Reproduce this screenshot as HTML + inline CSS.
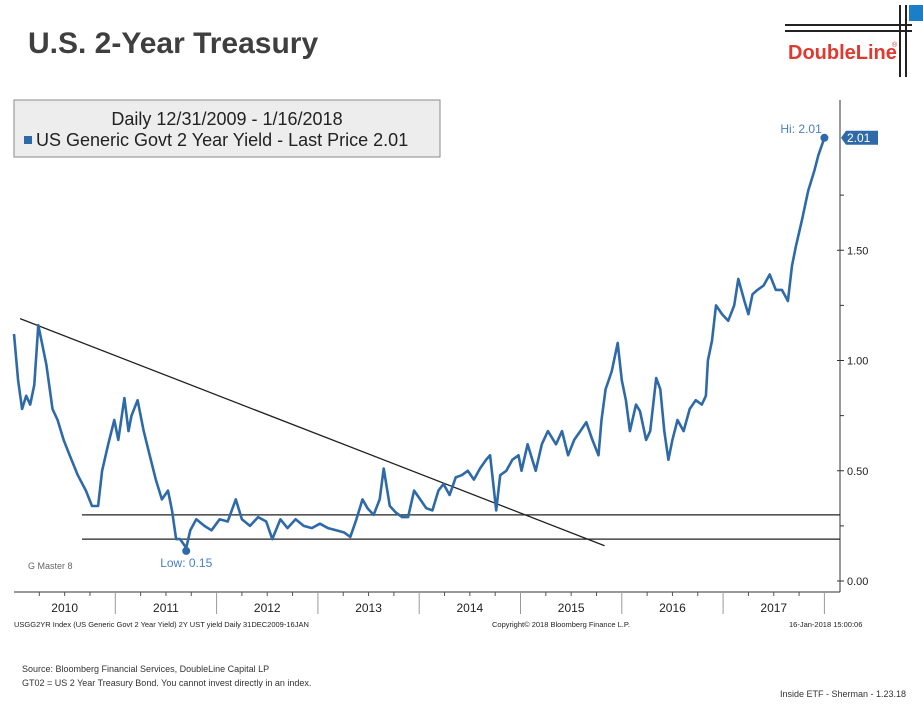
<!DOCTYPE html>
<html><head><meta charset="utf-8"><style>
body{margin:0;background:#fff;width:923px;height:704px;overflow:hidden;font-family:"Liberation Sans",sans-serif}
svg{display:block}
</style></head><body>
<svg width="923" height="704">
<text x="28" y="53" font-size="30" font-weight="bold" fill="#3f3f3f">U.S. 2-Year Treasury</text>
<g>
<line x1="785" y1="25" x2="912" y2="25" stroke="#222" stroke-width="2"/>
<line x1="785" y1="31" x2="912" y2="31" stroke="#222" stroke-width="2"/>
<line x1="900" y1="5" x2="900" y2="77" stroke="#222" stroke-width="2"/>
<line x1="906" y1="5" x2="906" y2="77" stroke="#222" stroke-width="2"/>
<rect x="909" y="5" width="14" height="16" fill="#1a7fc8"/>
<text x="788" y="59" font-size="20" font-weight="bold" fill="#e0392e">DoubleLine</text>
<text x="892" y="47" font-size="7" fill="#e0392e">®</text>
</g>
<g id="plot"></g>
<g>
<rect x="14" y="100" width="426" height="57" fill="#ededed" stroke="#8a8a8a"/>
<text x="227" y="125" font-size="18" text-anchor="middle" fill="#222">Daily 12/31/2009 - 1/16/2018</text>
<rect x="24" y="136" width="8" height="8" fill="#2e6aa8"/>
<text x="36" y="146" font-size="18" fill="#222">US Generic Govt 2 Year Yield - Last Price 2.01</text>
</g>
<text x="28" y="569" font-size="9" fill="#666">G Master 8</text>
<text x="14" y="627" font-size="7.5" fill="#222">USGG2YR Index (US Generic Govt 2 Year Yield) 2Y UST yield  Daily 31DEC2009-16JAN</text>
<text x="492" y="627" font-size="7.5" fill="#222">Copyright© 2018 Bloomberg Finance L.P.</text>
<text x="789" y="627" font-size="7.5" fill="#222">16-Jan-2018 15:00:06</text>
<text x="22" y="672" font-size="9" fill="#333">Source: Bloomberg Financial Services, DoubleLine Capital LP</text>
<text x="22" y="686" font-size="9" fill="#333">GT02 = US 2 Year Treasury Bond.  You cannot invest directly in an index.</text>
<text x="780" y="697" font-size="9" fill="#333">Inside ETF - Sherman - 1.23.18</text>
</svg>
<script>
const years=[2010,2011,2012,2013,2014,2015,2016,2017];
const yTicks=[0,0.5,1.0,1.5];
const yTickLabels=["0.00","0.50","1.00","1.50"];
const times=[0.00,0.04,0.08,0.12,0.16,0.20,0.24,0.28,0.32,0.38,0.43,0.49,0.55,0.63,0.71,0.77,0.83,0.87,0.93,0.99,1.03,1.09,1.13,1.16,1.22,1.28,1.34,1.40,1.46,1.52,1.56,1.60,1.64,1.70,1.74,1.80,1.88,1.95,2.03,2.11,2.19,2.25,2.33,2.41,2.49,2.55,2.63,2.70,2.78,2.86,2.94,3.02,3.10,3.18,3.26,3.32,3.38,3.44,3.49,3.55,3.61,3.65,3.71,3.77,3.83,3.89,3.95,4.01,4.07,4.13,4.19,4.24,4.30,4.36,4.42,4.48,4.54,4.60,4.66,4.70,4.76,4.80,4.86,4.92,4.98,5.01,5.07,5.15,5.21,5.27,5.35,5.41,5.47,5.53,5.59,5.65,5.71,5.77,5.80,5.84,5.90,5.96,6.00,6.04,6.08,6.14,6.18,6.24,6.28,6.34,6.38,6.42,6.46,6.50,6.55,6.61,6.67,6.73,6.79,6.83,6.85,6.89,6.93,6.99,7.05,7.11,7.15,7.21,7.25,7.29,7.34,7.40,7.46,7.52,7.58,7.64,7.68,7.72,7.78,7.84,7.90,7.94,8.00];
const yields=[1.12,0.91,0.78,0.84,0.80,0.89,1.16,1.07,0.98,0.78,0.73,0.64,0.57,0.48,0.41,0.34,0.34,0.50,0.62,0.73,0.64,0.83,0.68,0.75,0.82,0.68,0.57,0.46,0.37,0.41,0.32,0.19,0.19,0.15,0.23,0.28,0.25,0.23,0.28,0.27,0.37,0.28,0.25,0.29,0.27,0.19,0.28,0.24,0.28,0.25,0.24,0.26,0.24,0.23,0.22,0.20,0.28,0.37,0.33,0.30,0.37,0.51,0.34,0.31,0.29,0.29,0.41,0.37,0.33,0.32,0.41,0.44,0.39,0.47,0.48,0.50,0.46,0.51,0.55,0.57,0.32,0.48,0.50,0.55,0.57,0.50,0.62,0.50,0.62,0.68,0.62,0.68,0.57,0.64,0.68,0.72,0.64,0.57,0.73,0.87,0.95,1.08,0.91,0.82,0.68,0.80,0.77,0.64,0.68,0.92,0.87,0.68,0.55,0.64,0.73,0.68,0.78,0.82,0.80,0.84,1.00,1.09,1.25,1.21,1.18,1.25,1.37,1.27,1.21,1.30,1.32,1.34,1.39,1.32,1.32,1.27,1.43,1.52,1.64,1.77,1.86,1.93,2.01];
const support=[0.30,0.19];
const trendStart=[0.06,1.19], trendEnd=[5.83,0.16];
const NS="http://www.w3.org/2000/svg";
const X0=14,YW=101.3,Y0=581,YS=220.5;
const xs=t=>X0+t*YW, ys=v=>Y0-v*YS;
const g=document.getElementById('plot');
function mk(tag,a,p){const e=document.createElementNS(NS,tag);for(const k in a)e.setAttribute(k,a[k]);(p||g).appendChild(e);return e;}
let e=mk('line',{x1:840,y1:100,x2:840,y2:592,stroke:'#333','stroke-width':1});


e=mk('line',{x1:14,y1:592,x2:840,y2:592,stroke:'#333','stroke-width':1});


for(let v=0.25;v<2.1;v+=0.5){mk('line',{x1:840,y1:ys(v),x2:844,y2:ys(v),stroke:'#333'});}
yTicks.forEach((v,i)=>{
 mk('line',{x1:837,y1:ys(v),x2:844,y2:ys(v),stroke:'#333'});
 const t=mk('text',{x:847,y:ys(v)+4,'font-size':11,fill:'#222'});t.textContent=yTickLabels[i];
 
 
});
years.forEach((yr,i)=>{
 const x=xs(i);
 if(i>0) mk('line',{x1:x,y1:592,x2:x,y2:614,stroke:'#999'});
 for(let m=1;m<4;m++) mk('line',{x1:x+m*YW/4,y1:592,x2:x+m*YW/4,y2:596,stroke:'#555'});
 const t=mk('text',{x:x+YW/2,y:612,'font-size':12,'text-anchor':'middle',fill:'#222'});t.textContent=yr;
 
 
});
mk('line',{x1:xs(years.length),y1:592,x2:xs(years.length),y2:614,stroke:'#999'});
support.forEach(v=>{
 const l=mk('line',{x1:82,y1:ys(v),x2:840,y2:ys(v),stroke:'#222','stroke-width':1.3});
 
 
});
e=mk('line',{x1:xs(trendStart[0]),y1:ys(trendStart[1]),x2:xs(trendEnd[0]),y2:ys(trendEnd[1]),stroke:'#222','stroke-width':1.3});


let d=times.map((t,i)=>(i?'L':'M')+xs(t).toFixed(1)+','+ys(yields[i]).toFixed(1)).join('');
e=mk('path',{d:d,fill:'none',stroke:'#2e6aa8','stroke-width':2.6,'stroke-linejoin':'round'});


let lo=0,hi=0;yields.forEach((v,i)=>{if(v<yields[lo])lo=i;if(v>yields[hi])hi=i;});
e=mk('circle',{cx:xs(times[lo]),cy:ys(yields[lo])+3,r:4,fill:'#2e6aa8'});


e=mk('text',{x:xs(times[lo])-26,y:ys(yields[lo])+19,'font-size':12,fill:'#4a7fc0'});e.textContent='Low: '+yields[lo].toFixed(2);


e=mk('circle',{cx:xs(times[hi]),cy:ys(yields[hi]),r:4,fill:'#2e6aa8'});


e=mk('text',{x:xs(times[hi])-44,y:ys(yields[hi])-5,'font-size':12,fill:'#4a7fc0'});e.textContent='Hi: '+yields[hi].toFixed(2);


const py=ys(yields[yields.length-1]);
e=mk('path',{d:`M841,${py} L846,${py-7} L878,${py-7} L878,${py+7} L846,${py+7} Z`,fill:'#2e6aa8'});


e=mk('text',{x:847,y:py+4,'font-size':12,fill:'#fff'});e.textContent=yields[yields.length-1].toFixed(2);


</script>
</body></html>
